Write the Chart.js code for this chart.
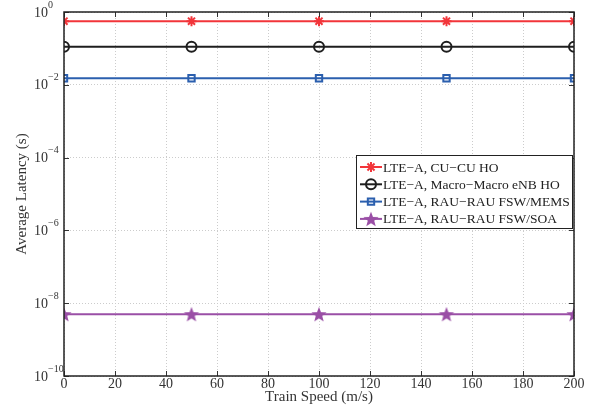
<!DOCTYPE html>
<html>
<head>
<meta charset="utf-8">
<script src="https://cdn.jsdelivr.net/npm/chart.js@4"></script>
<style>
  html, body { margin: 0; padding: 0; background: #fff; }
  #wrap { width: 595px; height: 412px; }
</style>
</head>
<body>
<div id="wrap"><canvas id="latencyChart" width="595" height="412"></canvas></div>
<script>
// ─── Data ───
const speeds = [0, 50, 100, 150, 200];
const cuHo = [0.56, 0.56, 0.56, 0.56, 0.56];
const macroHo = [0.111, 0.111, 0.111, 0.111, 0.111];
const rauMems = [0.0151, 0.0151, 0.0151, 0.0151, 0.0151];
const rauSoa = [5e-9, 5e-9, 5e-9, 5e-9, 5e-9];
const seriesNames = [
    'LTE\u2212A, CU\u2212CU HO',
    'LTE\u2212A, Macro\u2212Macro eNB HO',
    'LTE\u2212A, RAU\u2212RAU FSW/MEMS',
    'LTE\u2212A, RAU\u2212RAU FSW/SOA'
];
const xTicks = [0, 20, 40, 60, 80, 100, 120, 140, 160, 180, 200];
const yExps = [0, -2, -4, -6, -8, -10];

const SERIF = '"Liberation Serif", "DejaVu Serif", serif';

// five-point star marker for the SOA series
function makeStar(r, color) {
    const c = document.createElement('canvas');
    const s = Math.ceil(r * 2 + 4);
    c.width = s; c.height = s;
    const g = c.getContext('2d');
    g.translate(s / 2, s / 2 + 0.8);
    g.beginPath();
    for (let i = 0; i < 10; i++) {
        const rad = i % 2 === 0 ? r : r * 0.42;
        const a = -Math.PI / 2 + i * Math.PI / 5;
        g.lineTo(rad * Math.cos(a), rad * Math.sin(a));
    }
    g.closePath();
    g.fillStyle = color;
    g.fill();
    return c;
}

const colors = ['#f2353a', '#1e1e1e', '#2b5fae', '#9a4fa6'];
const starImg = makeStar(8, colors[3]);

// ─── Custom drawing: box, ticks, labels, legend ───
const framePlugin = {
    id: 'frame',
    afterDraw(chart) {
        const { ctx, chartArea: a, scales: { x, y } } = chart;
        ctx.save();
        // tick marks
        ctx.strokeStyle = '#333';
        ctx.lineWidth = 1;
        ctx.beginPath();
        xTicks.forEach(v => {
            const px = Math.round(x.getPixelForValue(v)) + 0.5;
            ctx.moveTo(px, a.bottom); ctx.lineTo(px, a.bottom - 5);
            ctx.moveTo(px, a.top); ctx.lineTo(px, a.top + 5);
        });
        yExps.forEach(e => {
            const py = Math.round(y.getPixelForValue(Math.pow(10, e))) + 0.5;
            ctx.moveTo(a.left, py); ctx.lineTo(a.left + 5, py);
            ctx.moveTo(a.right, py); ctx.lineTo(a.right - 5, py);
        });
        ctx.stroke();
        // box
        ctx.strokeStyle = '#222';
        ctx.lineWidth = 1.5;
        ctx.strokeRect(a.left, a.top, a.right - a.left, a.bottom - a.top);

        // x tick labels
        ctx.fillStyle = '#333';
        ctx.font = '14px ' + SERIF;
        ctx.textAlign = 'center';
        ctx.textBaseline = 'middle';
        xTicks.forEach(v => ctx.fillText(String(v), x.getPixelForValue(v), a.bottom + 8));

        // y tick labels 10^e
        yExps.forEach(e => {
            const py = y.getPixelForValue(Math.pow(10, e));
            ctx.textAlign = 'left';
            ctx.font = '14px ' + SERIF;
            ctx.fillText('10', 34, py + 1);
            ctx.font = '10px ' + SERIF;
            ctx.fillText(e === 0 ? '0' : '\u2212' + Math.abs(e), 48, py - 7);
        });

        // axis titles
        ctx.font = '15px ' + SERIF;
        ctx.textAlign = 'center';
        ctx.fillText('Train Speed (m/s)', (a.left + a.right) / 2, a.bottom + 21);
        ctx.save();
        ctx.translate(22, (a.top + a.bottom) / 2);
        ctx.rotate(-Math.PI / 2);
        ctx.fillText('Average Latency (s)', 0, 0);
        ctx.restore();

        // legend
        const lx = 356, ly = 155, lw = 216, lh = 73;
        ctx.fillStyle = '#fff';
        ctx.fillRect(lx, ly, lw, lh);
        ctx.strokeStyle = '#222';
        ctx.lineWidth = 1;
        ctx.strokeRect(lx + 0.5, ly + 0.5, lw, lh);
        ctx.font = '13.5px ' + SERIF;
        ctx.textAlign = 'left';
        chart.data.datasets.forEach((ds, i) => {
            const ry = ly + 12 + i * 17.3;
            ctx.strokeStyle = ds.borderColor;
            ctx.lineWidth = 2;
            ctx.beginPath();
            ctx.moveTo(lx + 4, ry); ctx.lineTo(lx + 26, ry);
            ctx.stroke();
            ctx.fillStyle = ds.pointBackgroundColor;
            ctx.strokeStyle = ds.pointBorderColor;
            Chart.helpers.drawPoint(ctx, {
                pointStyle: ds.pointStyle,
                radius: ds.pointRadius,
                borderWidth: ds.pointBorderWidth
            }, lx + 15, ry);
            ctx.fillStyle = '#222';
            ctx.fillText(seriesNames[i], lx + 27, ry + 1);
        });
        ctx.restore();
    }
};

function series(i, data, style, radius) {
    return {
        label: seriesNames[i],
        data: data,
        borderColor: colors[i],
        backgroundColor: 'rgba(0,0,0,0)',
        borderWidth: 2,
        pointStyle: style,
        pointRadius: radius,
        pointBorderWidth: 2,
        pointBorderColor: colors[i],
        pointBackgroundColor: i === 0 ? colors[0] : 'rgba(0,0,0,0)',
        tension: 0
    };
}

const ctx = document.getElementById('latencyChart').getContext('2d');
new Chart(ctx, {
    type: 'line',
    data: {
        labels: speeds,
        datasets: [
            series(0, cuHo, 'star', 5),
            series(1, macroHo, 'circle', 5),
            series(2, rauMems, 'rect', 4.5),
            series(3, rauSoa, starImg, 8)
        ]
    },
    options: {
        responsive: false,
        animation: false,
        devicePixelRatio: 1,
        layout: { padding: { top: 12, right: 21, left: 0, bottom: 0 } },
        plugins: { legend: { display: false }, tooltip: { enabled: false } },
        scales: {
            x: {
                type: 'linear',
                min: 0,
                max: 200,
                afterBuildTicks: s => { s.ticks = xTicks.map(v => ({ value: v })); },
                afterFit: s => { s.height = 36; },
                ticks: { display: false },
                grid: { color: '#cccccc', lineWidth: 1, drawTicks: false },
                border: { display: false, dash: [1, 2] }
            },
            y: {
                type: 'logarithmic',
                min: 1e-10,
                max: 1,
                afterBuildTicks: s => { s.ticks = yExps.map(e => ({ value: Math.pow(10, e) })); },
                afterFit: s => { s.width = 64; },
                ticks: { display: false },
                grid: { color: '#cccccc', lineWidth: 1, drawTicks: false },
                border: { display: false, dash: [1, 2] }
            }
        }
    },
    plugins: [framePlugin]
});
</script>
</body>
</html>
